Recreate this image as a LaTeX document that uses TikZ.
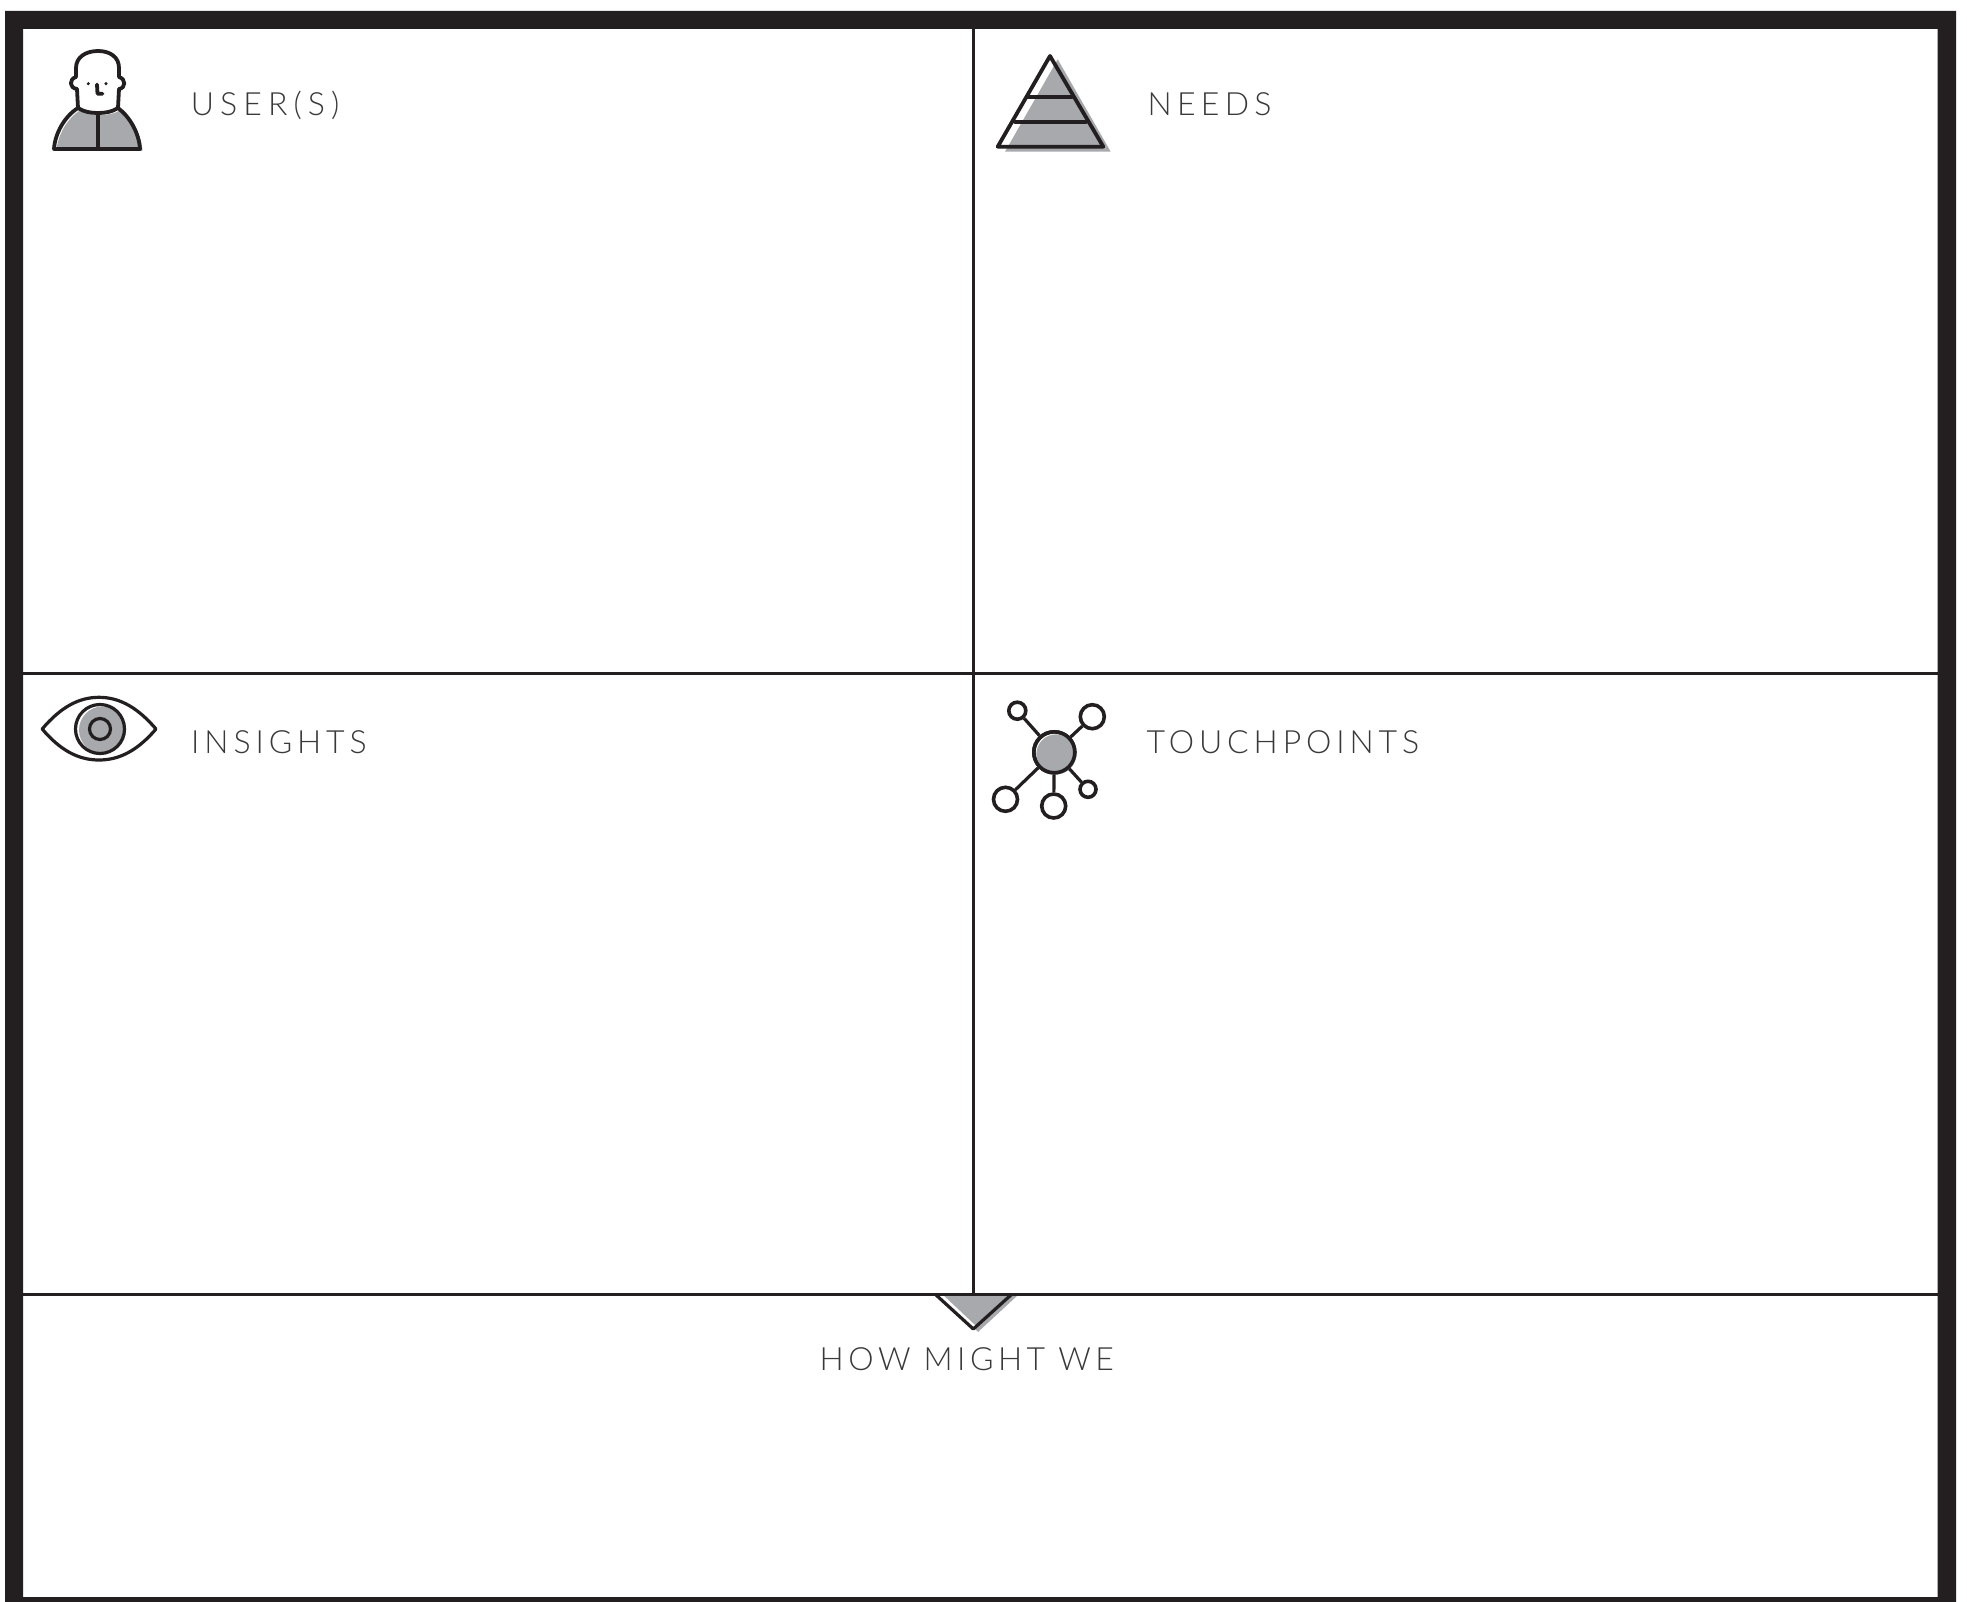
\documentclass[tikz,border=0pt]{standalone}
\usepackage{fontspec}
\newfontfamily\lblA[LetterSpace=19]{Lato Light}
\newfontfamily\lblB[LetterSpace=16.5]{Lato Light}
\newfontfamily\lblC[LetterSpace=15.3]{Lato Light}
\newfontfamily\lblD[LetterSpace=14]{Lato Light}
\definecolor{ink}{HTML}{231F20}
\definecolor{greytone}{HTML}{A7A9AC}
\definecolor{txt}{HTML}{3A3839}
\tikzset{
  px/.style={x=1pt,y=-1pt},
  rule/.style={draw=ink,line width=3.4pt},
  icon/.style={draw=ink,line width=3.8pt,line join=round,line cap=round},
  thin icon/.style={draw=ink,line width=3.2pt,line join=round,line cap=round},
  lbl/.style={anchor=base west,inner sep=0pt,text=txt,font=#1\fontsize{32}{32}\selectfont},
  hub/.style={circle,draw=ink,line width=3.6pt,inner sep=0pt,minimum size=#1,fill=white},
}
\begin{document}
\begin{tikzpicture}[px]
\useasboundingbox (0,0) rectangle (1967,1602);
\fill[white] (0,0) rectangle (1967,1602);
% frame
\fill[ink,even odd rule] (5,11) rectangle (1956,1602) (23,29) rectangle (1937.5,1597);
% dividers
\coordinate (vt) at (973.5,29); \coordinate (vb) at (973.5,1294);
\coordinate (h1l) at (23,673.5); \coordinate (h1r) at (1937.5,673.5);
\coordinate (h2l) at (23,1294.5); \coordinate (h2r) at (1937.5,1294.5);
% how-might-we wedge
\fill[greytone] (941,1295) -- (1018,1295) -- (978,1332) -- cycle;
\fill[white] (937,1295) -- (943,1295) -- (977,1327) -- (973.5,1330) -- cycle;
\draw[rule] (vt) -- (vb);
\draw[rule] (h1l) -- (h1r);
\draw[rule] (h2l) -- (h2r);
\draw[thin icon,line cap=butt] (935,1294) -- (973.3,1329) -- (1012,1294);
% user icon
\begin{scope}[shift={(1,1)}]
\begin{scope}[shift={(2.5,2)}]
\fill[greytone] (77,107) .. controls (83,111) and (90,112) .. (97,112) .. controls (104,112) and (111,111) .. (117,107)
  .. controls (129,116) and (138,132) .. (139,148) -- (53,148) .. controls (54,132) and (64,115) .. (77,107) -- cycle;
\end{scope}
\draw[icon] (77,107) .. controls (83,111) and (90,112) .. (97,112) .. controls (104,112) and (111,111) .. (117,107)
  .. controls (129,116) and (138,132) .. (139,148) -- (53,148) .. controls (54,132) and (64,115) .. (77,107) -- cycle;
\draw[icon] (97,112) -- (97,148);
\draw[icon] (77,107) -- (76,88) .. controls (68,87) and (68,78) .. (75,76) -- (75,67)
  .. controls (75,56) and (85,50) .. (97,50) .. controls (109,50) and (118,56) .. (118,67) -- (118,76)
  .. controls (125,78) and (125,87) .. (118,88) -- (117,107);
\fill[ink] (87.3,82.7) circle (1.7) (105,82.7) circle (1.7);
\draw[icon] (96,83.5) -- (96.5,92.7) -- (101.5,92.7);
\end{scope}
\node[lbl=\lblA] (users) at (190.7,116) {USER(S)};
% needs icon
\fill[greytone] (1057.7,59.3) -- (1110.7,151.7) -- (1005,151.7) -- cycle;
\draw[icon] (1050,56) -- (1103.3,146.7) -- (997.7,146.7) -- cycle;
\draw[icon] (1028.3,97.3) -- (1071.7,97.3);
\draw[icon] (1015,121.7) -- (1086,121.7);
\node[lbl=\lblB] (needs) at (1147.5,116) {NEEDS};
% insights icon
\draw[thin icon] (42.2,729) .. controls (60,708) and (78,697.3) .. (99,697.3) .. controls (120,697.3) and (138,708) .. (156,729)
  .. controls (138,750) and (120,760) .. (99,760) .. controls (78,760) and (60,750) .. (42.2,729) -- cycle;
\fill[greytone] (102.5,730) circle (23.5);
\draw[thin icon] (100,729) circle (24.5);
\draw[thin icon] (100,729) circle (10.5);
\node[lbl=\lblC] (insights) at (191,753.7) {INSIGHTS};
% touchpoints icon
\node[hub=41pt,fill=none] (tc) at (1054.3,752.3) {};
\node[hub=17pt] (t1) at (1017.3,710.7) {};
\node[hub=24pt] (t2) at (1092.3,716.7) {};
\node[hub=24pt] (t3) at (1005.5,799.3) {};
\node[hub=24pt] (t4) at (1053.7,806) {};
\node[hub=16pt] (t5) at (1088,789.3) {};
\fill[greytone] (1056.3,754.3) circle (20);
\node[hub=41pt,fill=none] at (tc) {};
\foreach \n in {t1,t2,t3,t4,t5} \draw[thin icon,line cap=butt] (tc) -- (\n);
\node[lbl=\lblC] (touch) at (1146.5,753.7) {TOUCHPOINTS};
% bottom label
\node[lbl=\lblD] (hmw) at (819.5,1370) {HOW MIGHT WE};
\end{tikzpicture}
\end{document}
